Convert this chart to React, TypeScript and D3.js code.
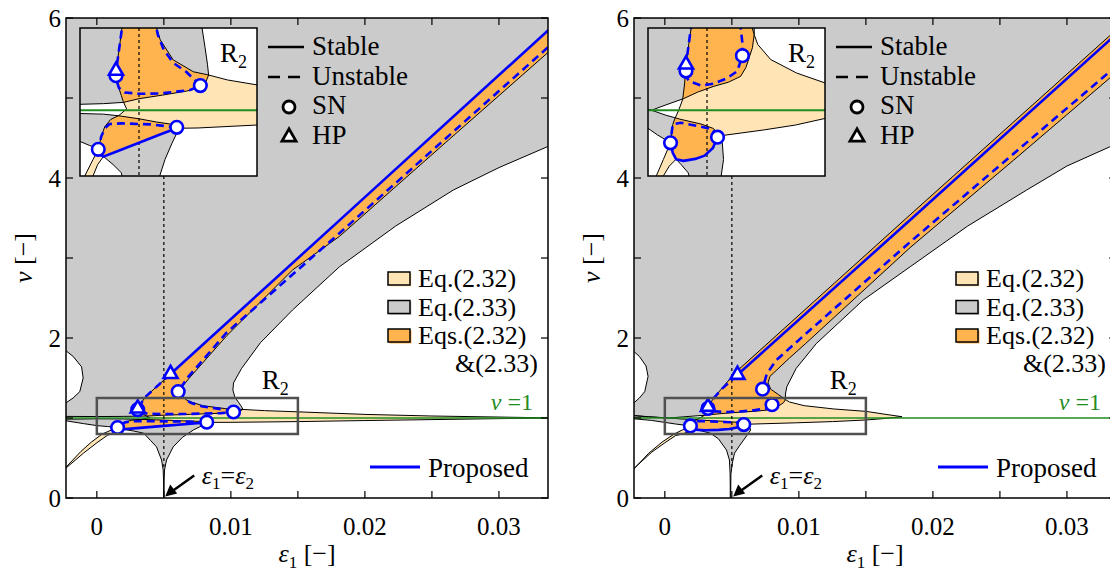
import React from 'react';
import * as d3 from 'd3';

type P = [number, number];

// ---------- axes / ticks ----------
const X_DOMAIN: P = [-0.0023, 0.03366];
const Y_DOMAIN: P = [0, 6];
const INSET_X: P = [0, 0.015];
const INSET_Y: P = [0.8, 1.25];
const X_TICKS = [0, 0.01, 0.02, 0.03];
const X_TICK_LABELS = ['0', '0.01', '0.02', '0.03'];
const X_MINOR_TICKS = [0.005, 0.015, 0.025];
const Y_TICKS = [0, 2, 4, 6];
const Y_TICK_LABELS = ['0', '2', '4', '6'];
const Y_MINOR_TICKS = [1, 3, 5];
const NU_ONE = 1;
const EPS_EQ = 0.005;
const LINE_LEGEND = ['Stable', 'Unstable', 'SN', 'HP'];
const AREA_LEGEND = ['Eq.(2.32)', 'Eq.(2.33)', 'Eqs.(2.32)', '&(2.33)'];

// ---------- left panel ----------
const L_EQ232: P[] = [
  [0.045, 7.57], [0.0336, 5.835], [0.0181, 3.47], [0.0055, 1.55], [0.0036, 1.26], [0.00305, 1.117],
  [0.0031, 1.09], [0.00325, 1.072], [0.0035, 1.045], [0.00367, 1.026], [0.00395, 1.004], [0.0033, 0.984],
  [0.0026, 0.972], [0.0021, 0.95], [0.0018, 0.92], [0.00155, 0.881],
  [0.0011, 0.85], [0.0004, 0.8], [-0.0004, 0.7], [-0.0012, 0.58], [-0.0023, 0.385], [-0.004, 0.14],
  [-0.004, 0.135], [-0.0023, 0.375], [-0.001, 0.56], [0, 0.69], [0.0008, 0.785], [0.0011, 0.8], [0.0015, 0.835], [0.00198, 0.859],
  [0.003, 0.873], [0.005, 0.901], [0.007, 0.929], [0.0082, 0.945],
  [0.01, 0.946], [0.015, 0.955], [0.02, 0.968], [0.025, 0.98], [0.03, 0.992], [0.0336, 0.999], [0.036, 1.0],
  [0.0336, 1.002], [0.03, 1.012], [0.025, 1.025], [0.02, 1.045], [0.015, 1.077], [0.0125, 1.092], [0.0109, 1.107],
  [0.0096, 1.117], [0.0079, 1.153], [0.0068, 1.214], [0.0064, 1.26], [0.00607, 1.33],
  [0.0069, 1.5], [0.0097, 2.03], [0.0146, 2.85], [0.0181, 3.27], [0.026, 4.44], [0.0336, 5.56], [0.045, 7.25],
];
const L_EQ233_UPPER: P[] = [
  [-0.01, 6.6], [0.045, 6.6], [0.045, 5.15],
  [0.0336, 4.39], [0.03, 4.13], [0.0266, 3.85], [0.0223, 3.4], [0.0181, 2.89], [0.0146, 2.35], [0.0122, 1.94],
  [0.0108, 1.62], [0.0102, 1.44], [0.01015, 1.35], [0.0103, 1.26], [0.0106, 1.19], [0.0108, 1.14], [0.0109, 1.107],
  [0.0106, 1.08], [0.0102, 1.068], [0.009, 1.058], [0.007, 1.046], [0.005, 1.035], [0.0037, 1.024],
  [0.002, 1.02], [0, 1.018], [-0.0023, 1.02], [-0.004, 1.02],
  [-0.004, 1.18], [-0.0023, 1.19], [-0.00177, 1.25], [-0.00127, 1.33], [-0.00102, 1.5], [-0.00114, 1.64],
  [-0.00177, 1.77], [-0.0023, 1.84], [-0.004, 1.85],
];
const L_EQ233_LOWER: P[] = [
  [-0.004, 0.985], [-0.0023, 0.985], [0, 0.99], [0.002, 0.988], [0.0033, 0.983], [0.005, 0.974], [0.0065, 0.964], [0.0082, 0.955],
  [0.0083, 0.945], [0.0082, 0.93], [0.0078, 0.9], [0.0072, 0.85], [0.0064, 0.76], [0.0057, 0.64], [0.0052, 0.475],
  [0.00505, 0.35], [0.00502, 0.2], [0.00502, -0.1],
  [0.00498, -0.1], [0.00498, 0.2], [0.00495, 0.35], [0.00483, 0.475], [0.00445, 0.64], [0.004, 0.72], [0.0035, 0.81],
  [0.0028, 0.835], [0.0022, 0.853], [0.002, 0.859], [0.0016, 0.875], [0.00155, 0.881], [0.0013, 0.886], [0.0008, 0.893],
  [0, 0.905], [-0.001, 0.93], [-0.0023, 0.965], [-0.004, 0.97],
];
const L_STABLE_UPPER: P[] = [[0.045, 7.57], [0.0336, 5.835], [0.0181, 3.47], [0.0055, 1.55]];
const L_STABLE_LOWER: P[] = [[0.00155, 0.881], [0.0017, 0.866], [0.00198, 0.859], [0.003, 0.873], [0.005, 0.901], [0.007, 0.929], [0.0082, 0.945]];
const L_UNSTABLE_A: P[] = [
  [0.0055, 1.55], [0.0036, 1.26], [0.00305, 1.117], [0.0031, 1.09], [0.0033, 1.068], [0.0038, 1.054], [0.005, 1.05],
  [0.0068, 1.051], [0.0093, 1.061], [0.0102, 1.075],
];
const L_UNSTABLE_B: P[] = [
  [0.0102, 1.075], [0.009, 1.117], [0.0079, 1.144], [0.0071, 1.184], [0.0066, 1.229], [0.0063, 1.28], [0.00607, 1.33],
  [0.0068, 1.51], [0.0097, 2.07], [0.0181, 3.31], [0.0336, 5.625], [0.045, 7.33],
];
const L_UNSTABLE_C: P[] = [[0.0082, 0.948], [0.006, 0.957], [0.0035, 0.96], [0.0025, 0.958], [0.0021, 0.945], [0.0018, 0.92], [0.00155, 0.881]];
const L_SN: P[] = [[0.00305, 1.105], [0.0102, 1.075], [0.00607, 1.33], [0.00155, 0.881], [0.0082, 0.948]];
const L_HP: P[] = [[0.0055, 1.55], [0.00305, 1.12]];

// ---------- right panel ----------
const R_EQ232: P[] = [
  [0.045, 7.56], [0.0332, 5.78], [0.0183, 3.54], [0.0054, 1.59], [0.0045, 1.42], [0.0037, 1.26], [0.00345, 1.2],
  [0.0032, 1.134], [0.0031, 1.08], [0.00294, 1.033], [0.0026, 1.0], [0.0023, 0.976], [0.0021, 0.957], [0.002, 0.93], [0.00191, 0.901],
  [0.0013, 0.85], [0.0007, 0.8], [-0.0002, 0.7], [-0.0012, 0.56], [-0.0023, 0.365], [-0.004, 0.12],
  [-0.004, 0.115], [-0.0023, 0.37], [-0.001, 0.57], [0, 0.69], [0.0008, 0.78], [0.0013, 0.8], [0.0018, 0.83], [0.00238, 0.851],
  [0.003, 0.846], [0.004, 0.852], [0.0048, 0.862], [0.0055, 0.885], [0.00589, 0.918],
  [0.0065, 0.924], [0.0098, 0.94], [0.0125, 0.955], [0.015, 0.975], [0.0165, 0.995], [0.0177, 1.016],
  [0.0165, 1.045], [0.015, 1.083], [0.0126, 1.113], [0.0104, 1.154], [0.0093, 1.2], [0.009, 1.23],
  [0.0085, 1.29], [0.0079, 1.36], [0.0077, 1.44], [0.00784, 1.52], [0.0093, 1.75], [0.0105, 1.93], [0.0183, 3.13],
  [0.026, 4.22], [0.0332, 5.25], [0.045, 6.93],
];
const R_EQ233_UPPER: P[] = [
  [-0.01, 6.6], [0.045, 6.6], [0.045, 5.2],
  [0.0332, 4.39], [0.03, 4.15], [0.027, 3.85], [0.0226, 3.4], [0.0183, 2.89], [0.0148, 2.475], [0.0113, 1.93],
  [0.0098, 1.62], [0.0091, 1.39], [0.009, 1.3], [0.009, 1.23],
  [0.00885, 1.19], [0.0083, 1.13], [0.00785, 1.103], [0.0068, 1.085], [0.0056, 1.073], [0.0042, 1.055], [0.003, 1.035],
  [0.0015, 1.016], [0.0003, 1.0], [-0.0012, 1.015], [-0.0023, 1.03], [-0.004, 1.04],
  [-0.004, 1.18], [-0.0023, 1.19], [-0.0019, 1.25], [-0.0015, 1.33], [-0.00125, 1.52], [-0.0014, 1.65],
  [-0.0019, 1.77], [-0.0023, 1.83], [-0.004, 1.84],
];
const R_EQ233_LOWER: P[] = [
  [-0.004, 1.04], [-0.0023, 1.03], [-0.0012, 1.015], [0.0003, 1.0], [0.0015, 0.985], [0.0028, 0.972], [0.0045, 0.958],
  [0.0055, 0.945], [0.006, 0.93], [0.0063, 0.9], [0.0064, 0.85], [0.0062, 0.8], [0.0056, 0.66], [0.0052, 0.56],
  [0.00505, 0.45], [0.00493, 0.3], [0.00492, 0.15], [0.00492, -0.1],
  [0.00488, -0.1], [0.00488, 0.15], [0.00487, 0.31], [0.00482, 0.475], [0.0046, 0.6], [0.004, 0.74], [0.0034, 0.81],
  [0.0028, 0.835], [0.00238, 0.851], [0.0021, 0.87], [0.00191, 0.901], [0.0015, 0.91], [0.0008, 0.925], [0, 0.945],
  [-0.001, 0.97], [-0.0023, 0.99], [-0.004, 1.0],
];
const R_STABLE_UPPER: P[] = [[0.045, 7.51], [0.0332, 5.725], [0.0183, 3.475], [0.00542, 1.54]];
const R_STABLE_LOWER: P[] = [[0.00191, 0.901], [0.0021, 0.87], [0.00238, 0.851], [0.003, 0.846], [0.004, 0.852], [0.0048, 0.862], [0.0055, 0.885], [0.00589, 0.918]];
const R_UNSTABLE_A: P[] = [
  [0.00542, 1.54], [0.0043, 1.37], [0.0036, 1.24], [0.00322, 1.139], [0.00325, 1.1], [0.0035, 1.088], [0.00449, 1.075],
  [0.00561, 1.081], [0.00673, 1.098], [0.00757, 1.119], [0.008, 1.166],
];
const R_UNSTABLE_B: P[] = [
  [0.008, 1.166], [0.008, 1.205], [0.00785, 1.25], [0.0075, 1.31], [0.00729, 1.36], [0.0076, 1.55], [0.0083, 1.72],
  [0.0105, 2.05], [0.0183, 3.2], [0.0332, 5.33], [0.045, 7.0],
];
const R_UNSTABLE_C: P[] = [[0.00589, 0.918], [0.00547, 0.942], [0.0042, 0.952], [0.0028, 0.962], [0.0021, 0.957], [0.002, 0.93], [0.00191, 0.901]];
const R_SN: P[] = [[0.00322, 1.119], [0.008, 1.166], [0.00729, 1.36], [0.00191, 0.901], [0.00589, 0.918]];
const R_HP: P[] = [[0.00542, 1.54], [0.00322, 1.139]];

const LEFT = {
  A: L_EQ232, B: [L_EQ233_UPPER, L_EQ233_LOWER],
  stable: [L_STABLE_UPPER, L_STABLE_LOWER], unstable: [L_UNSTABLE_A, L_UNSTABLE_B, L_UNSTABLE_C],
  sn: L_SN, hp: L_HP,
};
const RIGHT = {
  A: R_EQ232, B: [R_EQ233_UPPER, R_EQ233_LOWER],
  stable: [R_STABLE_UPPER, R_STABLE_LOWER], unstable: [R_UNSTABLE_A, R_UNSTABLE_B, R_UNSTABLE_C],
  sn: R_SN, hp: R_HP,
};

const GRAY = '#cbcbcb';
const BEIGE = '#ffe5b6';
const ORANGE = '#ffb450';
const BLUE = '#0000ff';
const GREEN = '#1f8c1f';
const FONT = "'Liberation Serif', 'Times New Roman', Times, serif";

function tri(cx: number, cy: number, s: number) {
  const h = (s * Math.sqrt(3)) / 2;
  return `${cx},${cy - (h * 2) / 3} ${cx - s / 2},${cy + h / 3} ${cx + s / 2},${cy + h / 3}`;
}

function Layer({ id, sx, sy, d, clipId, inset }: any) {
  const line = d3.line<P>().x((p) => sx(p[0])).y((p) => sy(p[1]));
  const poly = (pts: P[]) => (line(pts) || '') + 'Z';
  const bPath = d.B.map(poly).join(' ');
  const aPath = poly(d.A);
  const [x0, x1] = sx.range();
  const [yb, yt] = sy.range();
  return (
    <g clipPath={`url(#${clipId})`}>
      <defs>
        <clipPath id={id + '-b'}>
          <path d={bPath} />
        </clipPath>
      </defs>
      <rect x={x0} y={yt} width={x1 - x0} height={yb - yt} fill="#fff" />
      <path d={bPath} fill={GRAY} />
      <path d={aPath} fill={BEIGE} />
      <path d={aPath} fill={ORANGE} clipPath={`url(#${id}-b)`} />
      <path d={bPath} fill="none" stroke="#000" strokeWidth={1} strokeLinejoin="round" />
      <path d={aPath} fill="none" stroke="#000" strokeWidth={1} strokeLinejoin="round" />
      <line x1={x0} x2={x1} y1={sy(NU_ONE)} y2={sy(NU_ONE)} stroke={GREEN} strokeWidth={inset ? 2 : 1.6} />
      <line
        x1={sx(EPS_EQ)} x2={sx(EPS_EQ)}
        y1={inset ? yt : 176} y2={inset ? yb : sy(0.35)}
        stroke="#000" strokeWidth={1.2} strokeDasharray="3 3"
      />
      {d.stable.map((s: P[], i: number) => (
        <path key={'s' + i} d={line(s) || ''} fill="none" stroke={BLUE} strokeWidth={2.6} strokeLinejoin="round" />
      ))}
      {d.unstable.map((s: P[], i: number) => (
        <path key={'u' + i} d={line(s) || ''} fill="none" stroke={BLUE} strokeWidth={2.6} strokeDasharray="8 5" strokeLinejoin="round" />
      ))}
      {d.sn.map((p: P, i: number) => (
        <circle key={'c' + i} cx={sx(p[0])} cy={sy(p[1])} r={6.3} fill="#fff" stroke={BLUE} strokeWidth={2.6} />
      ))}
      {d.hp.map((p: P, i: number) => (
        <polygon key={'t' + i} points={tri(sx(p[0]), sy(p[1]), 14)} fill="#fff" stroke={BLUE} strokeWidth={2.6} strokeLinejoin="miter" />
      ))}
    </g>
  );
}

function Panel({ left, id, d }: any) {
  const right = left + 482;
  const top = 18;
  const bottom = 498;
  const x = d3.scaleLinear().domain(X_DOMAIN).range([left, right]);
  const y = d3.scaleLinear().domain(Y_DOMAIN).range([bottom, top]);
  const ix = d3.scaleLinear().domain(INSET_X).range([left + 14, left + 191]);
  const iy = d3.scaleLinear().domain(INSET_Y).range([176, 28]);
  const tl = 7;
  const tip = { x: x(0.0051), y: y(0.02) };
  return (
    <g style={{ fontFamily: FONT }}>
      <defs>
        <clipPath id={id + '-main'}>
          <rect x={left} y={top} width={482} height={480} />
        </clipPath>
        <clipPath id={id + '-inset'}>
          <rect x={left + 14} y={28} width={177} height={148} />
        </clipPath>
      </defs>
      <Layer id={id + 'm'} sx={x} sy={y} d={d} clipId={id + '-main'} inset={false} />
      {/* R2 box */}
      <rect x={x(0)} y={y(1.25)} width={x(0.015) - x(0)} height={y(0.8) - y(1.25)} fill="none" stroke="#505050" strokeWidth={2.5} />
      <text x={x(0.0123)} y={389} fontSize={27}>
        R<tspan fontSize={18} dy={6}>2</tspan>
      </text>
      {/* frame */}
      <rect x={left} y={top} width={482} height={480} fill="none" stroke="#000" strokeWidth={1.5} />
      {[...X_TICKS, ...X_MINOR_TICKS].map((v, i) => (
        <g key={'xt' + i}>
          <line x1={x(v)} x2={x(v)} y1={bottom} y2={bottom - tl} stroke="#000" strokeWidth={1.2} />
          <line x1={x(v)} x2={x(v)} y1={top} y2={top + tl} stroke="#000" strokeWidth={1.2} />
        </g>
      ))}
      {[...Y_TICKS, ...Y_MINOR_TICKS].map((v, i) => (
        <g key={'yt' + i}>
          <line x1={left} x2={left + tl} y1={y(v)} y2={y(v)} stroke="#000" strokeWidth={1.2} />
          <line x1={right} x2={right - tl} y1={y(v)} y2={y(v)} stroke="#000" strokeWidth={1.2} />
        </g>
      ))}
      {X_TICKS.map((v, i) => (
        <text key={'xl' + i} x={x(v)} y={535} fontSize={25} textAnchor="middle">{X_TICK_LABELS[i]}</text>
      ))}
      {Y_TICKS.map((v, i) => (
        <text key={'yl' + i} x={left - 5} y={y(v) + 9} fontSize={25} textAnchor="end">{Y_TICK_LABELS[i]}</text>
      ))}
      <text x={left + 241} y={562} fontSize={26} textAnchor="middle">
        <tspan fontStyle="italic">ε</tspan><tspan fontSize={17} dy={6}>1</tspan><tspan dy={-6}> [−]</tspan>
      </text>
      <text transform={`translate(${left - 34},258) rotate(-90)`} fontSize={26} textAnchor="middle">
        <tspan fontStyle="italic">ν</tspan> [−]
      </text>
      {/* arrow annotation */}
      <line x1={tip.x + 29} y1={tip.y - 21} x2={tip.x + 8} y2={tip.y - 6} stroke="#000" strokeWidth={2.5} />
      <polygon points={`${tip.x},${tip.y} ${tip.x + 5},${tip.y - 12} ${tip.x + 12},${tip.y - 3}`} fill="#000" />
      <text x={x(EPS_EQ) + 38} y={484} fontSize={26}>
        <tspan fontStyle="italic">ε</tspan><tspan fontSize={17} dy={5}>1</tspan><tspan dy={-5}>=</tspan>
        <tspan fontStyle="italic">ε</tspan><tspan fontSize={17} dy={5}>2</tspan>
      </text>
      {/* inset */}
      <Layer id={id + 'i'} sx={ix} sy={iy} d={d} clipId={id + '-inset'} inset={true} />
      <rect x={left + 14} y={28} width={177} height={148} fill="none" stroke="#000" strokeWidth={1.5} />
      <text x={left + 154} y={62} fontSize={27}>
        R<tspan fontSize={18} dy={6}>2</tspan>
      </text>
      {/* line legend */}
      <line x1={left + 202} x2={left + 238} y1={47} y2={47} stroke="#000" strokeWidth={2.6} />
      <line x1={left + 202} x2={left + 238} y1={77} y2={77} stroke="#000" strokeWidth={2.6} strokeDasharray="12 8" />
      <circle cx={left + 223} cy={107} r={6} fill="#fff" stroke="#000" strokeWidth={2.8} />
      <polygon points={tri(left + 223, 137, 14)} fill="#fff" stroke="#000" strokeWidth={2.8} />
      {LINE_LEGEND.map((t, i) => (
        <text key={'ll' + i} x={left + 246} y={55 + i * 29.7} fontSize={27}>{t}</text>
      ))}
      {/* area legend */}
      {[BEIGE, GRAY, ORANGE].map((c, i) => (
        <g key={'al' + i}>
          <rect x={left + 323.5} y={273.5 + i * 28.5} width={22} height={13} fill={c} />
          <rect x={left + 322} y={272 + i * 28.5} width={22} height={13} fill={c} stroke="#000" strokeWidth={1.5} />
        </g>
      ))}
      {AREA_LEGEND.slice(0, 3).map((t, i) => (
        <text key={'at' + i} x={left + 352} y={287 + i * 28.5} fontSize={26}>{t}</text>
      ))}
      <text x={left + 472} y={372} fontSize={26} textAnchor="end">{AREA_LEGEND[3]}</text>
      <text x={left + 467} y={410} fontSize={24} textAnchor="end" fill={GREEN}>
        <tspan fontStyle="italic">ν</tspan> =1
      </text>
      <line x1={left + 304} x2={left + 354} y1={467} y2={467} stroke={BLUE} strokeWidth={2.8} />
      <text x={left + 362} y={477} fontSize={27}>Proposed</text>
    </g>
  );
}

export default function App() {
  return (
    <svg
      width={1110}
      height={575}
      style={{ position: 'absolute', left: 0, top: 0, background: '#fff', fontFamily: FONT }}
      xmlns="http://www.w3.org/2000/svg"
    >
      <rect x={0} y={0} width={1110} height={575} fill="#fff" />
      <Panel left={66} id="pl" d={LEFT} />
      <Panel left={634} id="pr" d={RIGHT} />
    </svg>
  );
}
